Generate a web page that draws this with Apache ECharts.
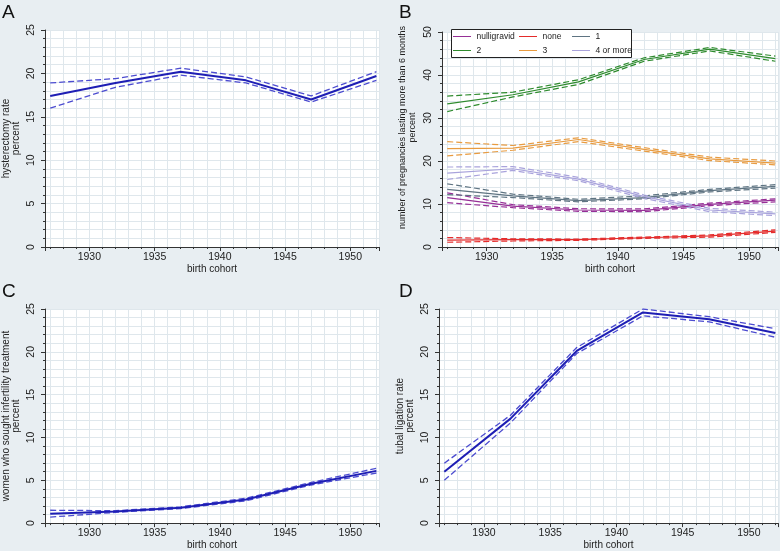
<!DOCTYPE html>
<html><head><meta charset="utf-8">
<script src="https://cdn.jsdelivr.net/npm/echarts@6/dist/echarts.min.js"></script>
<style>html,body{margin:0;padding:0;background:#e8eef2}#c{width:780px;height:551px}</style>
</head><body><div id="c"></div>
<script>
const years = [1927, 1932, 1937, 1942, 1947, 1952];
// Panel A hysterectomy
const hystMid = [17.4, 18.9, 20.2, 19.2, 17.0, 19.7];
const hystLo  = [16.0, 18.4, 19.8, 18.9, 16.7, 19.2];
const hystHi  = [18.9, 19.4, 20.6, 19.6, 17.4, 20.2];
// Panel B pregnancies
const bGroups = ['nulligravid', 'none', '1', '2', '3', '4 or more'];
const nulliMid = [11.5, 9.5, 8.6, 8.5, 9.9, 10.9];
const nulliLo  = [10.3, 9.15, 8.3, 8.2, 9.6, 10.5];
const nulliHi  = [12.6, 9.85, 8.9, 8.85, 10.2, 11.2];
const noneMid = [1.6, 1.7, 1.7, 2.15, 2.6, 3.7];
const noneLo  = [1.1, 1.4, 1.55, 2.0, 2.3, 3.4];
const noneHi  = [2.2, 1.9, 1.85, 2.3, 2.8, 4.0];
const oneMid = [13.4, 11.9, 10.8, 11.5, 13.1, 14.1];
const oneLo  = [12.2, 11.5, 10.5, 11.2, 12.8, 13.7];
const oneHi  = [14.7, 12.3, 11.1, 11.9, 13.4, 14.5];
const twoMid = [33.3, 35.4, 38.4, 43.6, 46.0, 43.8];
const twoLo  = [31.5, 34.9, 37.8, 43.2, 45.6, 43.2];
const twoHi  = [35.1, 36.0, 38.9, 44.0, 46.4, 44.4];
const threeMid = [22.9, 23.0, 25.0, 22.7, 20.5, 19.5];
const threeLo  = [21.2, 22.5, 24.5, 22.3, 20.1, 19.1];
const threeHi  = [24.5, 23.6, 25.4, 23.1, 20.9, 20.0];
const fourMid = [17.2, 18.2, 15.8, 11.7, 8.6, 7.7];
const fourLo  = [15.7, 17.8, 15.4, 11.3, 8.2, 7.3];
const fourHi  = [18.6, 18.7, 16.2, 12.1, 9.0, 8.1];
// Panel C infertility treatment
const infMid = [1.1, 1.35, 1.8, 2.75, 4.6, 6.1];
const infLo  = [0.7, 1.25, 1.7, 2.6, 4.45, 5.85];
const infHi  = [1.5, 1.45, 1.9, 2.9, 4.75, 6.4];
// Panel D tubal ligation
const tubMid = [6.0, 12.2, 20.1, 24.6, 23.8, 22.2];
const tubLo  = [5.0, 11.7, 19.8, 24.2, 23.5, 21.7];
const tubHi  = [7.0, 12.6, 20.5, 25.0, 24.1, 22.7];

const yTitles = ['hysterectomy rate\npercent', 'number of pregnancies lasting more than 6 months\npercent',
  'women who sought infertility treatment\npercent', 'tubal ligation rate\npercent'];
const yMax = [25, 50, 25, 25];
const yInterval = [5, 10, 5, 5];
const panelLetters = ['A', 'B', 'C', 'D'];

const FONT = 'Liberation Sans, Arial, sans-serif';
const gridColor = '#dfe7ec';
const axisColor = '#333';
const txt = '#222';

const grids = [
  {left: 39, top: 30, width: 340, height: 217},
  {left: 442, top: 32, width: 336, height: 215},
  {left: 39, top: 309, width: 340, height: 216},
  {left: 439, top: 309, width: 339, height: 216}
];

const xAxes = grids.map((g, i) => ({
  type: 'value', gridIndex: i, min: 1926.6, max: 1952.2, splitNumber: 5,
  axisLine: {show: true, onZero: false, lineStyle: {color: axisColor, width: 1}},
  axisTick: {show: true, length: 4, lineStyle: {color: axisColor}},
  minorTick: {show: true, splitNumber: 5, length: 2, lineStyle: {color: axisColor}},
  axisLabel: {fontSize: 10.5, color: txt, margin: 5, fontFamily: FONT,
    formatter: v => (Math.abs(v % 5) < 1e-6 ? String(v) : ''), showMinLabel: false, showMaxLabel: false},
  splitLine: {show: true, lineStyle: {color: gridColor, width: 1}},
  minorSplitLine: {show: true, lineStyle: {color: gridColor, width: 1}},
  name: 'birth cohort', nameLocation: 'middle', nameGap: 15,
  nameTextStyle: {fontSize: 10, color: txt, fontFamily: FONT}
}));

const yAxes = grids.map((g, i) => ({
  type: 'value', gridIndex: i, min: 0, max: yMax[i], interval: yInterval[i],
  axisLine: {show: true, lineStyle: {color: axisColor, width: 1}},
  axisTick: {show: true, length: 4, lineStyle: {color: axisColor}},
  minorTick: {show: true, splitNumber: 5, length: 2, lineStyle: {color: axisColor}},
  axisLabel: {fontSize: 10.5, color: txt, margin: 8, rotate: 90, fontFamily: FONT},
  splitLine: {show: true, lineStyle: {color: gridColor, width: 1}},
  minorSplitLine: {show: true, lineStyle: {color: gridColor, width: 1}},
  name: yTitles[i], nameLocation: 'middle', nameGap: 24, nameRotate: 90,
  nameTextStyle: {fontSize: i === 1 ? 9 : 10, color: txt, fontFamily: FONT, lineHeight: 10,
    padding: i === 1 ? [0, 0, 0, 24] : 0}
}));

function pts(arr) { return years.map((y, k) => [y, arr[k]]); }

const series = [];
function addBand(idx, mid, lo, hi, color, dashColor, wMid, wDash, name) {
  [lo, hi].forEach(a => series.push({
    type: 'line', xAxisIndex: idx, yAxisIndex: idx, data: pts(a), symbol: 'none', silent: true,
    lineStyle: {color: dashColor, width: wDash, type: [6, 3]}, z: 2
  }));
  series.push({
    type: 'line', name: name, xAxisIndex: idx, yAxisIndex: idx, data: pts(mid), symbol: 'none',
    lineStyle: {color: color, width: wMid}, itemStyle: {color: color}, z: 3
  });
}
const blue = '#1e1eb4', blueDash = '#4c4cd0';
addBand(0, hystMid, hystLo, hystHi, blue, blueDash, 2, 1.3, undefined);
const bCols = ['#962f96', '#e42b2b', '#5f7482', '#2e8b2e', '#e89b40', '#a9a3dc'];
const bData = [[nulliMid, nulliLo, nulliHi], [noneMid, noneLo, noneHi], [oneMid, oneLo, oneHi],
  [twoMid, twoLo, twoHi], [threeMid, threeLo, threeHi], [fourMid, fourLo, fourHi]];
bData.forEach((d, k) => addBand(1, d[0], d[1], d[2], bCols[k], bCols[k], 1.2, 1.2, bGroups[k]));
addBand(2, infMid, infLo, infHi, blue, blueDash, 2, 1.3, undefined);
addBand(3, tubMid, tubLo, tubHi, blue, blueDash, 2, 1.3, undefined);

const lineIcon = 'path://M0,0L0.01,0L0,0.01Z M0,4.4H20V5.6H0Z M0,10L0.01,10L0,9.99Z';
const legendCols = [[bGroups[0], bGroups[3]], [bGroups[1], bGroups[4]], [bGroups[2], bGroups[5]]];
const legendLeft = [453, 519, 572];
const legends = legendCols.map((items, k) => ({
  data: items, orient: 'vertical', left: legendLeft[k], top: 32, itemWidth: 19, itemHeight: 9,
  itemGap: 5, padding: 0, z: 6, icon: lineIcon,
  textStyle: {fontSize: 8.5, color: txt, fontFamily: FONT}
}));

const titles = panelLetters.map((t, i) => ({
  text: t, left: [2, 399, 2, 399][i], top: [3, 3, 282, 282][i], padding: 0,
  textStyle: {fontSize: 19, fontWeight: 'normal', color: '#111', fontFamily: FONT}
}));

const chart = echarts.init(document.getElementById('c'), null, {renderer: 'canvas'});
chart.setOption({
  backgroundColor: '#e8eef2',
  animation: false,
  title: titles,
  grid: grids.map(g => Object.assign({show: true, backgroundColor: '#ffffff', borderWidth: 0}, g)),
  xAxis: xAxes,
  yAxis: yAxes,
  legend: legends,
  graphic: [{type: 'rect', left: 451, top: 29, z: 5, shape: {width: 180, height: 28},
    style: {fill: '#ffffff', stroke: '#222', lineWidth: 1}}],
  series: series
});
</script></body></html>
